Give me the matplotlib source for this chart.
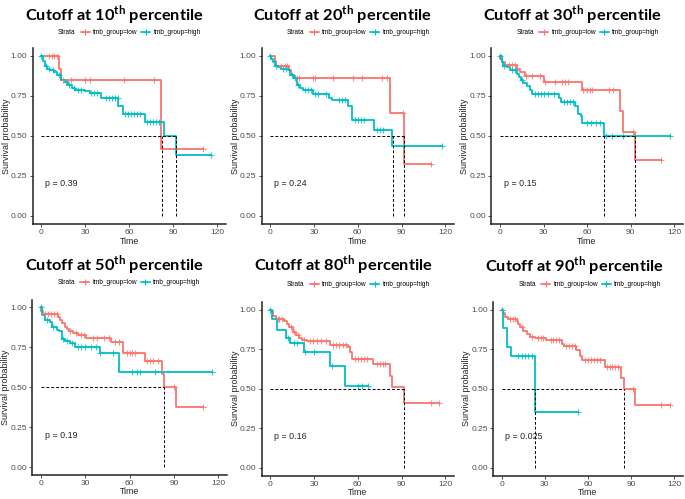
import numpy as np
import matplotlib
matplotlib.use("Agg")
import matplotlib.pyplot as plt
from matplotlib.lines import Line2D

plt.rcParams['font.family'] = ['Liberation Sans', 'DejaVu Sans']
plt.rcParams['mathtext.fontset'] = 'custom'
plt.rcParams['mathtext.bf'] = 'Lato:bold'
plt.rcParams['mathtext.rm'] = 'Lato:bold'

RED = '#F8766D'
TEAL = '#00BFC4'

# ---- data: step times / survival, censor times ----
# 10th percentile
p10_low_t = [0, 11.8, 13.4, 81.8, 110]
p10_low_s = [1.0, 0.92, 0.85, 0.42, 0.42]
p10_low_cens = [5.5, 7, 9, 10.5, 15, 20, 30, 33, 56.6, 76.8, 110]
p10_high_t = [0, 1, 2.5, 4, 6, 9, 11, 13.4, 16, 18, 21, 23, 30, 33, 41, 52.5, 55.5, 70.7, 84, 92, 116]
p10_high_s = [1.0, 0.97, 0.94, 0.92, 0.91, 0.90, 0.88, 0.85, 0.84, 0.82, 0.80, 0.79, 0.78, 0.77,
              0.74, 0.69, 0.635, 0.585, 0.50, 0.38, 0.38]
p10_high_cens = [0, 3, 5, 8, 12, 17, 19, 22, 25, 27, 34, 36, 38, 44, 46, 48, 50, 52, 57, 59, 61,
                 63, 65, 67, 72, 74, 76, 78, 80, 116]
p10_median = [82, 92]
p10_pval = "p = 0.39"

# 20th percentile
p20_low_t = [0, 3, 4, 12.6, 14.4, 16, 81.8, 91.7, 110]
p20_low_s = [1.0, 0.97, 0.94, 0.91, 0.88, 0.86, 0.645, 0.325, 0.325]
p20_low_cens = [7.5, 10, 11.7, 18, 20, 29, 31, 43, 56.7, 63, 76.6, 80, 91, 110]
p20_high_t = [0, 0.7, 1.8, 3, 5.3, 7.5, 12.3, 13.4, 16, 18, 20.3, 22.6, 29.5, 40, 42, 53.5, 56,
              71, 83.7, 118]
p20_high_s = [1.0, 0.98, 0.96, 0.94, 0.93, 0.92, 0.91, 0.88, 0.86, 0.82, 0.80, 0.785, 0.765, 0.74,
              0.725, 0.69, 0.60, 0.54, 0.435, 0.435]
p20_high_cens = [0, 4, 9, 11, 15, 17, 19, 24, 26, 28, 31, 33, 38, 47, 49, 51, 58, 60, 62, 64, 73,
                 75, 77, 92, 118]
p20_median = [84, 92]
p20_pval = "p = 0.24"

# 30th percentile
p30_low_t = [0, 0.3, 1.2, 3.4, 11.5, 14, 17, 30, 56.3, 83, 85, 93, 111]
p30_low_s = [1.0, 0.98, 0.96, 0.945, 0.92, 0.90, 0.875, 0.84, 0.79, 0.655, 0.525, 0.35, 0.35]
p30_low_cens = [6, 8, 10, 18, 22, 27.6, 31, 38, 42.5, 45, 47, 57.5, 60, 62, 63.5, 75, 78, 92, 111]
p30_high_t = [0, 1.2, 2.3, 4.6, 6.9, 11.5, 13, 14.5, 16, 18.4, 20.6, 22.2, 40.5, 42, 51.7, 54,
              55.8, 56.7, 71.6, 117]
p30_high_s = [1.0, 0.96, 0.94, 0.93, 0.91, 0.89, 0.87, 0.85, 0.83, 0.815, 0.79, 0.765, 0.74, 0.71,
              0.685, 0.64, 0.625, 0.58, 0.50, 0.50]
p30_high_cens = [0, 3, 8, 10, 15, 24, 26, 28, 30, 33, 37, 44, 46, 48, 50, 60, 63, 66, 69, 73, 77,
                 85, 117]
p30_median = [71.6, 93]
p30_pval = "p = 0.15"

# 50th percentile
p50_low_t = [0, 0.3, 1.6, 11.7, 13, 14.5, 16, 17.5, 19, 22, 25, 30.5, 47.8, 55.8, 70.4, 81.7,
             83.3, 91.4, 110]
p50_low_s = [1.0, 0.98, 0.96, 0.94, 0.92, 0.90, 0.88, 0.865, 0.85, 0.84, 0.83, 0.81, 0.785,
             0.715, 0.665, 0.58, 0.50, 0.375, 0.375]
p50_low_cens = [3, 5, 7, 9, 11, 20, 24, 27, 29, 35, 38, 43, 46, 50, 53, 58, 60, 62, 64, 72, 74,
                76, 79, 90, 110]
p50_high_t = [0, 0.5, 2.7, 6, 7.3, 10.8, 12.4, 14, 16.3, 19.6, 23, 40, 53, 116]
p50_high_s = [1.0, 0.95, 0.92, 0.91, 0.875, 0.86, 0.85, 0.80, 0.79, 0.78, 0.755, 0.715, 0.595,
              0.595]
p50_high_cens = [0, 4, 8, 15, 18, 21, 25, 27, 30, 34, 37, 40, 49, 62, 65, 67, 77, 116]
p50_median = [83.3]
p50_pval = "p = 0.19"

# 80th percentile
p80_low_t = [0, 0.3, 2, 4, 9.7, 11.5, 13, 15.3, 17.6, 20, 22, 25, 40.7, 53, 55, 56, 70.4, 81.8,
             83.7, 91.7, 116]
p80_low_s = [1.0, 0.99, 0.96, 0.94, 0.93, 0.91, 0.89, 0.86, 0.84, 0.82, 0.81, 0.80, 0.78, 0.765,
             0.73, 0.69, 0.655, 0.58, 0.51, 0.41, 0.41]
p80_low_cens = [5, 6, 8, 14, 16, 19, 23, 27, 29, 32, 35, 38, 43, 45, 47, 50, 52, 58, 60, 62, 64,
                66, 73, 75, 77, 79, 110, 116]
p80_high_t = [0, 1.4, 4.6, 11, 13.3, 23, 40.7, 51.4, 67]
p80_high_s = [1.0, 0.94, 0.875, 0.82, 0.79, 0.73, 0.645, 0.52, 0.52]
p80_high_cens = [0, 12, 16, 18, 24, 30, 42, 60, 63, 67]
p80_median = [92]
p80_pval = "p = 0.16"

# 90th percentile
p90_low_t = [0, 1.2, 2.3, 4.6, 10.4, 11.6, 12.8, 15, 17.4, 19.7, 23, 31, 41.8, 43, 52, 54.3, 56,
             71.5, 83, 84.7, 92.8, 117]
p90_low_s = [1.0, 0.98, 0.955, 0.945, 0.93, 0.91, 0.89, 0.865, 0.845, 0.83, 0.82, 0.81, 0.785,
             0.77, 0.745, 0.71, 0.68, 0.64, 0.565, 0.50, 0.40, 0.40]
p90_low_cens = [0, 6, 8, 9, 14, 21, 25, 27, 29, 34, 36, 38, 40, 45, 47, 49, 51, 58, 60, 62, 64,
                66, 68, 73, 75, 77, 79, 81, 91, 111, 117]
p90_high_t = [0, 1.1, 3.9, 6.3, 23.2, 53]
p90_high_s = [1.0, 0.885, 0.765, 0.705, 0.355, 0.355]
p90_high_cens = [0, 11.6, 14, 16, 18.5, 21, 53]
p90_median = [23.2, 84.7]
p90_pval = "p = 0.025"

cutoffs = [10, 20, 30, 50, 80, 90]

panels = [
    (p10_low_t, p10_low_s, p10_low_cens, p10_high_t, p10_high_s, p10_high_cens, p10_median, p10_pval),
    (p20_low_t, p20_low_s, p20_low_cens, p20_high_t, p20_high_s, p20_high_cens, p20_median, p20_pval),
    (p30_low_t, p30_low_s, p30_low_cens, p30_high_t, p30_high_s, p30_high_cens, p30_median, p30_pval),
    (p50_low_t, p50_low_s, p50_low_cens, p50_high_t, p50_high_s, p50_high_cens, p50_median, p50_pval),
    (p80_low_t, p80_low_s, p80_low_cens, p80_high_t, p80_high_s, p80_high_cens, p80_median, p80_pval),
    (p90_low_t, p90_low_s, p90_low_cens, p90_high_t, p90_high_s, p90_high_cens, p90_median, p90_pval),
]

# axes boxes in pixels: left, right, top, bottom
W, H = 685, 499
boxes = [(32.5, 226, 48, 224), (261.5, 454, 48, 224), (491.3, 682.7, 48, 224),
         (32, 227, 299.5, 475), (261.5, 454, 302, 475.5), (493, 683, 302, 475.5)]
title_x = [114, 342, 572, 114, 343, 574]
title_top = [3, 3, 3, 253, 253, 254]
legend_y = [32, 32, 32, 282, 284, 284]


def surv_at(t, s, x):
    idx = np.searchsorted(t, x, side='right') - 1
    return np.asarray(s)[np.clip(idx, 0, len(s) - 1)]


def fx(px):
    return px / W


def fy(py):
    return 1 - py / H


fig = plt.figure(figsize=(6.85, 4.99), dpi=100)

for i, (lt, ls, lc, ht, hs, hc, med, pval) in enumerate(panels):
    l, r, t, b = boxes[i]
    ax = fig.add_axes([fx(l), fy(b), fx(r - l), (b - t) / H])

    for tt, ss, cc, col in [(lt, ls, lc, RED), (ht, hs, hc, TEAL)]:
        ax.step(tt, ss, where='post', color=col, lw=1.3, zorder=3)
        ax.plot(cc, surv_at(tt, ss, cc), ls='none', marker='+', ms=4, mew=0.8,
                color=col, alpha=0.8, zorder=4)

    ax.plot([0, max(med)], [0.5, 0.5], color='black', ls=(0, (3, 2)), lw=0.7, zorder=5)
    for m in med:
        ax.plot([m, m], [0, 0.5], color='black', ls=(0, (3, 2)), lw=0.7, zorder=5)

    ax.text(2.5, 0.2, pval, fontsize=6.4, ha='left', va='center', color='#222222')

    ax.set_xlim(-6, 126)
    ax.set_ylim(-0.05, 1.05)
    ax.set_xticks([0, 30, 60, 90, 120])
    ax.set_yticks([0, 0.25, 0.5, 0.75, 1.0])
    ax.set_yticklabels(['0.00', '0.25', '0.50', '0.75', '1.00'])
    ax.tick_params(labelsize=6.0, labelcolor='#4D4D4D', length=2.5, width=0.6,
                   color='#333333', pad=1.2)
    for sp in ['top', 'right']:
        ax.spines[sp].set_visible(False)
    for sp in ['left', 'bottom']:
        ax.spines[sp].set_linewidth(1.1)
        ax.spines[sp].set_color('#222222')
    ax.set_xlabel('Time', fontsize=6.4, color='#222222')
    ax.set_ylabel('Survival probability', fontsize=6.4, color='#222222')
    ax.xaxis.label.set_va('top')
    ax.xaxis.set_label_coords(0.5, -12.5 / (b - t))
    ax.yaxis.set_label_coords(-22.0 / (r - l), 0.5)

    fig.text(fx(title_x[i]), fy(title_top[i]),
             'Cutoff at %d$^{\\mathbf{th}}$ percentile' % cutoffs[i],
             family='Lato', weight='bold', fontsize=11.8, ha='center', va='top')

    # legend row
    ly = fy(legend_y[i])
    fig.text(fx(l + 25.5), ly, 'Strata', fontsize=4.7, va='center', ha='left')
    for x0, col, lab in [(l + 48, RED, 'tmb_group=low'), (l + 108.5, TEAL, 'tmb_group=high')]:
        fig.add_artist(Line2D([fx(x0), fx(x0 + 9)], [ly, ly], color=col, lw=1.2,
                              transform=fig.transFigure))
        fig.add_artist(Line2D([fx(x0 + 4.5)], [ly], color=col, marker='+', ms=4, mew=0.8,
                              transform=fig.transFigure))
        fig.text(fx(x0 + 12.5), ly, lab, fontsize=4.7, va='center', ha='left')

fig.savefig('out.png', dpi=100)
